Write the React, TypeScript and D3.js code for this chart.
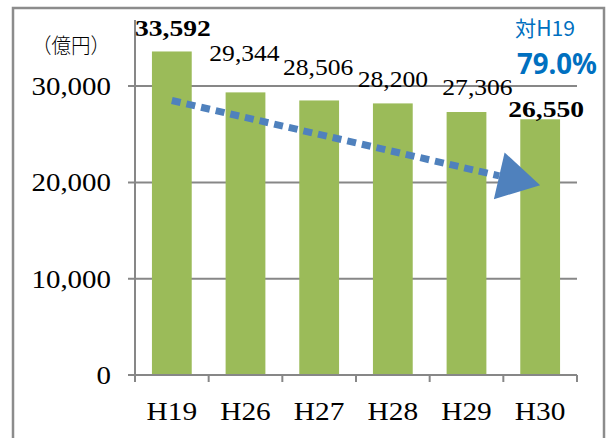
import React from "react";
import * as d3 from "d3";

const categories = ["H19", "H26", "H27", "H28", "H29", "H30"];
const values = [33592, 29344, 28506, 28200, 27306, 26550];
const boldLabel = [true, false, false, false, false, true];
const yTicks = [0, 10000, 20000, 30000];
const unitLabel = "（億円）";
const compareLabel = "対H19";
const compareValue = "79.0%";
const trendFrom = 28500;
const trendTo = 19700;

// label vertical offsets above bar tops (styling)
const labelDy = [15, 31, 25, 16, 17, 2];
const labelDx = [1, -1, -1, 0, 11, 6];

// approximate Century Schoolbook advance widths (em) to size the stretched text
function textW(s: string, size: number, bold = false) {
  let w = 0;
  for (const ch of s) {
    if (/[0-9]/.test(ch)) w += bold ? 0.574 : 0.556;
    else if (ch === ",") w += bold ? 0.287 : 0.278;
    else if (ch === "H") w += 0.833;
    else w += 0.5;
  }
  return w * size;
}

export default function App() {
  const W = 609, H = 438;
  const left = 135, right = 577, top = 20, bottom = 375;
  const x = d3.scaleBand<string>().domain(categories).range([left, right]).paddingInner(0.46).paddingOuter(0.23);
  const xb = d3.scaleBand<string>().domain(categories).range([left, right]);
  const y = d3.scaleLinear().domain([0, 36860]).range([bottom, top]);
  const fmt = d3.format(",");
  const grey = "#878787";
  const serif = "'Liberation Serif', 'Times New Roman', serif";
  const cx = (c: string) => (xb(c) as number) + xb.bandwidth() / 2;

  const x1 = cx(categories[0]), y1 = y(trendFrom);
  const x2 = cx(categories[categories.length - 1]), y2 = y(trendTo);
  const ang = Math.atan2(y2 - y1, x2 - x1);
  const headLen = 42, headHalf = 24;
  const bx = x2 - headLen * Math.cos(ang), by = y2 - headLen * Math.sin(ang);
  const px = -Math.sin(ang), py = Math.cos(ang);
  const head = `M${x2},${y2} L${bx + px * headHalf},${by + py * headHalf} L${bx - px * headHalf},${by - py * headHalf} Z`;

  return (
    <svg width={W} height={H} style={{ position: "absolute", left: 0, top: 0, background: "#fff" }}>
      <rect x={13} y={8} width={591} height={440} fill="#fff" stroke="#8c8c8c" strokeWidth={2.5} />
      {yTicks.filter((t) => t > 0).map((t) => (
        <line key={t} x1={left - 7} x2={right} y1={y(t)} y2={y(t)} stroke={grey} strokeWidth={2} />
      ))}
      {categories.map((c, i) => (
        <rect key={c} x={x(c)} y={y(values[i])} width={x.bandwidth()} height={bottom - y(values[i])} fill="#9BBB59" />
      ))}
      <line x1={left} x2={left} y1={top} y2={bottom} stroke={grey} strokeWidth={2} />
      <line x1={left - 7} x2={right} y1={bottom} y2={bottom} stroke={grey} strokeWidth={2} />
      {[...categories.map((c) => xb(c) as number), right].map((v, i) => (
        <line key={i} x1={v} x2={v} y1={bottom} y2={bottom + 7} stroke={grey} strokeWidth={2} />
      ))}
      {yTicks.map((t) => (
        <text key={t} x={111} y={y(t)} dy="0.34em" textAnchor="end" fontFamily={serif} fontSize={26} fill="#000"
          textLength={textW(fmt(t), 26)} lengthAdjust="spacingAndGlyphs">
          {fmt(t)}
        </text>
      ))}
      {categories.map((c) => (
        <text key={c} x={cx(c)} y={420} textAnchor="middle" fontFamily={serif} fontSize={26} fill="#000"
          textLength={textW(c, 26)} lengthAdjust="spacingAndGlyphs">
          {c}
        </text>
      ))}
      <text x={71} y={53} textAnchor="middle" fontFamily="'Noto Sans CJK JP', sans-serif" fontWeight={300} fontSize={21} fill="#000"
        textLength={78} lengthAdjust="spacingAndGlyphs">
        {unitLabel}
      </text>
      {categories.map((c, i) => {
        const b = boldLabel[i];
        const fs = b ? 24 : 23;
        return (
          <text
            key={c}
            x={cx(c) + labelDx[i]}
            y={y(values[i]) - labelDy[i]}
            textAnchor="middle"
            fontFamily={serif}
            fontWeight={b ? "bold" : "normal"}
            fontSize={fs}
            fill="#000"
            textLength={textW(fmt(values[i]), fs, b)}
            lengthAdjust="spacingAndGlyphs"
          >
            {fmt(values[i])}
          </text>
        );
      })}
      <line x1={x1} y1={y1} x2={bx} y2={by} stroke="#4F81BD" strokeWidth={7} strokeDasharray="9 6" />
      <path d={head} fill="#4F81BD" />
      <text x={515} y={36} fontFamily="'Noto Sans CJK JP', sans-serif" fontSize={21} fill="#0070C0" textLength={60} lengthAdjust="spacingAndGlyphs">
        {compareLabel}
      </text>
      <text x={517} y={74} fontFamily="'Noto Sans', sans-serif" fontWeight="bold" fontSize={29} fill="#0070C0" textLength={80} lengthAdjust="spacingAndGlyphs">
        {compareValue}
      </text>
    </svg>
  );
}
